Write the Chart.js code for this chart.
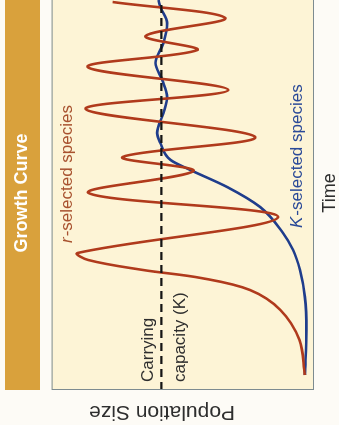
<!DOCTYPE html>
<html>
<head>
<meta charset="utf-8">
<script src="https://cdn.jsdelivr.net/npm/chart.js@4.4.0/dist/chart.umd.min.js"></script>
<style>
    html, body { margin: 0; padding: 0; width: 339px; height: 425px; overflow: hidden; background: #fdfbf6; }
    /* el gráfico se dibuja "acostado" y luego se gira 90° a la izquierda */
    #giro { position: absolute; left: 0; top: 0; width: 440px; height: 339px;
            transform-origin: 0 0; transform: translate(0px, 425px) rotate(-90deg); }
</style>
</head>
<body>
<div id="giro"><canvas id="grafico" width="440" height="339"></canvas></div>
<script>
// 1. DATOS (tiempo en unidades arbitrarias, población con K = 100)
const capacidadK = 100;
const rangoTiempo = [0, 394];
const rangoPoblacion = [0, 172];

// especie r: crecimiento explosivo y oscilaciones fuertes alrededor de K
const tiempoR     = [15, 50, 80, 100, 112, 120, 130, 137, 173, 197, 219, 233, 253, 281, 300, 323, 340, 354, 372, 388];
const poblacionR  = [6, 9.5, 22, 42, 74, 112, 148, 155, 23.5, 147.7, 79, 125.5, 38.6, 149.7, 56.2, 148.4, 76.5, 110.5, 58.2, 132];

// especie K: curva logística que se estabiliza en K
const tiempoK     = [15, 60, 93, 120, 140, 157, 183, 203, 220, 230, 247, 257, 277, 293, 310, 327, 347, 367, 383, 390];
const poblacionK  = [6, 5, 6, 9.2, 13.7, 20.3, 35.3, 56.9, 81, 94, 100.7, 102.8, 98.7, 96.3, 99.5, 103.9, 98.7, 96.3, 100.7, 102];

const puntos = (xs, ys) => xs.map((x, i) => ({ x: x, y: ys[i] }));

// 2. PLUGIN: fondo del área, barra del título, borde y textos
const FUENTE = "'Liberation Sans', Arial, sans-serif";

function textoMixto(ctx, cursiva, resto, x, y, color, tam) {
    ctx.fillStyle = color;
    ctx.font = `italic ${tam}px ${FUENTE}`;
    ctx.fillText(cursiva, x, y);
    const w = ctx.measureText(cursiva).width;
    ctx.font = `${tam}px ${FUENTE}`;
    ctx.fillText(resto, x + w + 1, y);
}

const decorado = {
    id: 'decorado',
    beforeDraw(chart) {
        const { ctx, chartArea: a } = chart;
        const t = chart.titleBlock;
        ctx.save();
        // barra naranja del título
        ctx.fillStyle = '#d9a13c';
        const izq = t ? t.left : a.left;
        const der = t ? t.right : a.right;
        ctx.fillRect(izq, 5, der - izq, 35);
        // fondo crema del área de trazado
        ctx.fillStyle = '#fdf4d6';
        ctx.fillRect(a.left, a.top, a.right - a.left, a.bottom - a.top);
        ctx.restore();
    },
    afterDraw(chart) {
        const { ctx, chartArea: a, scales } = chart;
        const sx = scales.x, sy = scales.y;
        const yK = sy.getPixelForValue(capacidadK);
        ctx.save();
        // borde del área
        ctx.strokeStyle = '#7d8b90';
        ctx.lineWidth = 1;
        ctx.strokeRect(a.left + 0.5, a.top + 0.5, a.right - a.left - 1, a.bottom - a.top - 1);

        ctx.textBaseline = 'middle';
        ctx.textAlign = 'left';
        textoMixto(ctx, 'r', '-selected species', sx.getPixelForValue(147), a.top + 16, '#a8522f', 17);
        textoMixto(ctx, 'K', '-selected species', sx.getPixelForValue(162), a.bottom - 17, '#2b4a98', 17);

        ctx.fillStyle = '#2e2e2e';
        ctx.font = `17px ${FUENTE}`;
        ctx.fillText('Carrying', a.left + 8, yK - 13);
        ctx.fillText('capacity (K)', a.left + 8, yK + 19);

        ctx.textAlign = 'center';
        ctx.font = `18px ${FUENTE}`;
        ctx.fillText('Time', (a.left + a.right) / 2, a.bottom + 16);

        ctx.translate(13, 162);
        ctx.rotate(-Math.PI / 2);
        ctx.font = `21px ${FUENTE}`;
        ctx.fillText('Population Size', 0, 0);
        ctx.restore();
    }
};

// 3. GRÁFICO
new Chart(document.getElementById('grafico'), {
    type: 'scatter',
    data: {
        datasets: [
            {
                label: 'Carrying capacity (K)',
                data: puntos(rangoTiempo, [capacidadK, capacidadK]),
                showLine: true,
                borderColor: '#151515',
                borderWidth: 2.2,
                borderDash: [8, 5],
                pointRadius: 0
            },
            {
                label: 'r-selected species',
                data: puntos(tiempoR, poblacionR),
                showLine: true,
                borderColor: '#b03a1c',
                borderWidth: 2.6,
                tension: 0.35,
                pointRadius: 0
            },
            {
                label: 'K-selected species',
                data: puntos(tiempoK, poblacionK),
                showLine: true,
                borderColor: '#1f3d8c',
                borderWidth: 2.6,
                cubicInterpolationMode: 'monotone',
                pointRadius: 0
            }
        ]
    },
    options: {
        responsive: false,
        animation: false,
        layout: { padding: { left: 35, right: 11, top: 5, bottom: 25 } },
        scales: {
            x: { type: 'linear', min: rangoTiempo[0], max: rangoTiempo[1], display: false },
            y: { type: 'linear', min: rangoPoblacion[0], max: rangoPoblacion[1], display: false }
        },
        plugins: {
            legend: { display: false },
            tooltip: { enabled: false },
            title: {
                display: true,
                text: 'Growth Curve',
                fullSize: false,
                color: '#ffffff',
                font: { size: 18, weight: 'bold', family: FUENTE },
                padding: { top: 6, bottom: 19 }
            }
        }
    },
    plugins: [decorado]
});
</script>
</body>
</html>
